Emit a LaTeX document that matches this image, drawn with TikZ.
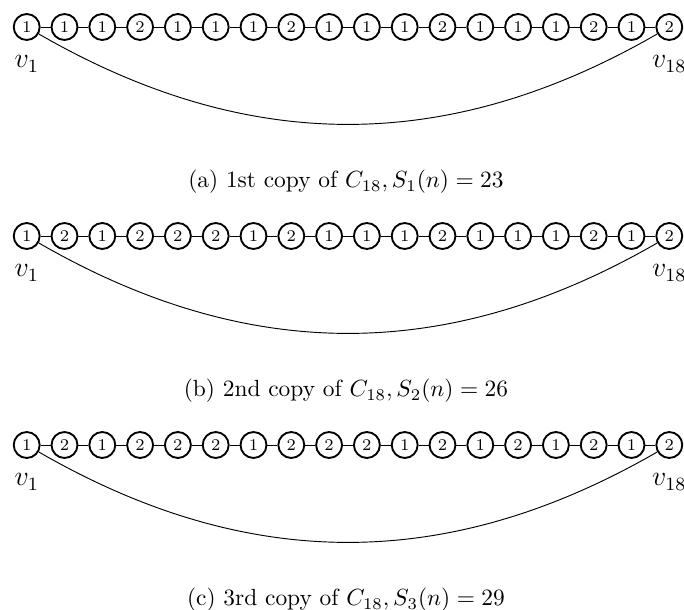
\documentclass[tikz,border=0pt]{standalone}
\begin{document}
\begin{tikzpicture}[x=0.4275pt,y=-0.4275pt,
  vtx/.style={circle,draw,thick,minimum size=11.1pt,inner sep=0pt,font=\scriptsize},
  edge/.style={draw},
  vlab/.style={inner sep=0pt,font=\large},
  capt/.style={inner sep=0pt}]
\useasboundingbox (0,0) rectangle (684,610);
% row a
\foreach \v [count=\i] in {1,1,1,2,1,1,1,2,1,1,1,2,1,1,1,2,1,2}
  \node[vtx] (a\i) at ({26.7+37.8*(\i-1)},27) {\v};
% row b
\foreach \v [count=\i] in {1,2,1,2,2,2,1,2,1,1,1,2,1,1,1,2,1,2}
  \node[vtx] (b\i) at ({26.7+37.8*(\i-1)},236) {\v};
% row c
\foreach \v [count=\i] in {1,2,1,2,2,2,1,2,2,2,1,2,1,2,1,2,1,2}
  \node[vtx] (c\i) at ({26.7+37.8*(\i-1)},445) {\v};
\foreach \r in {a,b,c}{
  \foreach \i in {1,...,17}{
    \pgfmathtruncatemacro\j{\i+1}
    \draw[edge] (\r\i) -- (\r\j);
  }
  \draw[edge] (\r1) to[bend right=30] (\r18);
}
\node[vlab] (la) at (26.7,64) {$v_1$};
\node[vlab] (lb) at (26.7,273) {$v_1$};
\node[vlab] (lc) at (26.7,482) {$v_1$};
\node[vlab] (ra) at (669.3,64) {$v_{18}$};
\node[vlab] (rb) at (669.3,273) {$v_{18}$};
\node[vlab] (rc) at (669.3,482) {$v_{18}$};
\node[capt] (capa) at (346,182) {(a) 1st copy of $C_{18}, S_1(n) = 23$};
\node[capt] (capb) at (346,391) {(b) 2nd copy of $C_{18}, S_2(n) = 26$};
\node[capt] (capc) at (346,600) {(c) 3rd copy of $C_{18}, S_3(n) = 29$};
\end{tikzpicture}
\end{document}
